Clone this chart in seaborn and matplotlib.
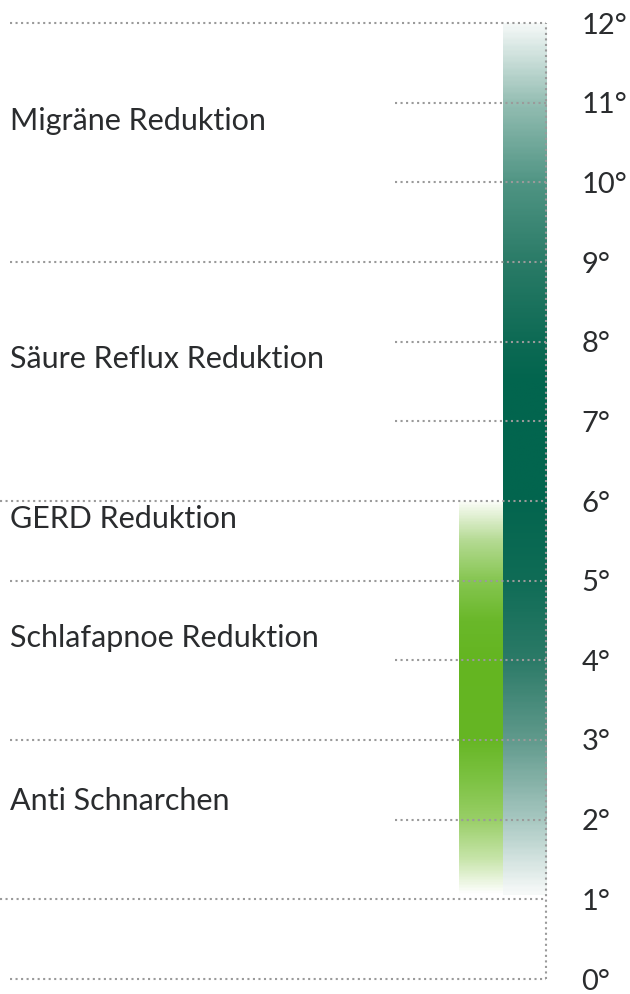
import numpy as np
import matplotlib
matplotlib.use("Agg")
import matplotlib.pyplot as plt
import seaborn as sns
from matplotlib.colors import LinearSegmentedColormap, Normalize

# data
levels = list(range(13))
level_labels = [f"{v}°" for v in levels]
bar_names = ["GERD", "Gesamt"]
bar_bottom = [1.05, 1.05]
bar_top = [6, 12]
effects = ["Migräne Reduktion", "Säure Reflux Reduktion", "GERD Reduktion",
           "Schlafapnoe Reduktion", "Anti Schnarchen"]
effect_y = [10.66, 7.67, 5.66, 4.17, 2.12]
# which grid lines reach the left edge (0 = full, 1 = slightly inset, 2 = short)
grid_kind = [1, 0, 2, 1, 2, 1, 0, 2, 2, 1, 2, 2, 1]

# gradient styles (value, colour)
green_stops = [(1.05, "#ffffff"), (1.5, "#c6e4a8"), (2.0, "#98ce66"), (2.5, "#7cc242"),
               (3.0, "#66b624"), (4.0, "#64b521"), (4.5, "#6ab82a"), (5.0, "#86c651"),
               (5.5, "#b4da92"), (6.0, "#fbfdf8")]
teal_stops = [(1.05, "#f6f9f8"), (2.0, "#a5c6bf"), (3.0, "#5f998b"), (4.0, "#2b7a67"),
              (5.0, "#0f6c56"), (6.0, "#03654e"), (7.5, "#02654e"), (8.0, "#0d6a54"),
              (9.0, "#2a7b67"), (10.0, "#4f9483"), (11.0, "#93bdb2"), (12.0, "#f4f8f7")]

sns.set_theme(style="white")
plt.rcParams["font.family"] = ["Lato", "DejaVu Sans"]
text_color = "#2a2c2e"
grid_color = "#9a9a9a"

fig = plt.figure(figsize=(6.3, 9.94), dpi=100)
ax = fig.add_axes([0, 15 / 994, 546 / 630, 956 / 994])

sns.barplot(x=bar_names, y=bar_top, color="white", width=1.0, ax=ax)

for patch, stops, b, t in zip(ax.patches, [green_stops, teal_stops], bar_bottom, bar_top):
    patch.set_y(b)
    patch.set_height(t - b)
    patch.set_facecolor("none")
    patch.set_edgecolor("none")
    lo, hi = stops[0][0], stops[-1][0]
    cmap = LinearSegmentedColormap.from_list(
        "g", [((v - lo) / (hi - lo), c) for v, c in stops])
    x0 = patch.get_x()
    x1 = x0 + patch.get_width()
    grad = np.linspace(b, t, 400).reshape(-1, 1)
    im = ax.imshow(grad, cmap=cmap, norm=Normalize(lo, hi), extent=[x0, x1, b, t],
                   origin="lower", aspect="auto", zorder=1, interpolation="bilinear")
    im.set_clip_path(patch)

xmin_frac = {0: 0.0, 1: 10 / 546, 2: 395 / 546}
tr = ax.get_yaxis_transform()
for v, k in zip(levels, grid_kind):
    ax.hlines(v, xmin_frac[k], 1.0, transform=tr, colors=grid_color, lw=1.5,
              linestyles=(0, (1, 1.65)), zorder=3, clip_on=False)
ax.vlines(1.0, 0, 12, transform=tr, colors=grid_color, lw=1.5,
          linestyles=(0, (1, 1.65)), zorder=3, clip_on=False)

for lab, y in zip(effects, effect_y):
    ax.text(10 / 546, y, lab, transform=tr, va="baseline", ha="left",
            fontsize=22, color=text_color)

ax.set_xlim(1.5 - 546 / 43.5, 1.5)
ax.set_ylim(0, 12)
ax.yaxis.tick_right()
ax.set_yticks(levels, labels=level_labels)
ax.tick_params(axis="y", length=0, pad=25.5, labelsize=21, labelcolor=text_color)
ax.set_xticks([])
ax.set_xlabel("")
ax.set_ylabel("")
for s in ax.spines.values():
    s.set_visible(False)
ax.patch.set_alpha(0)

fig.savefig("out.png", dpi=100)
